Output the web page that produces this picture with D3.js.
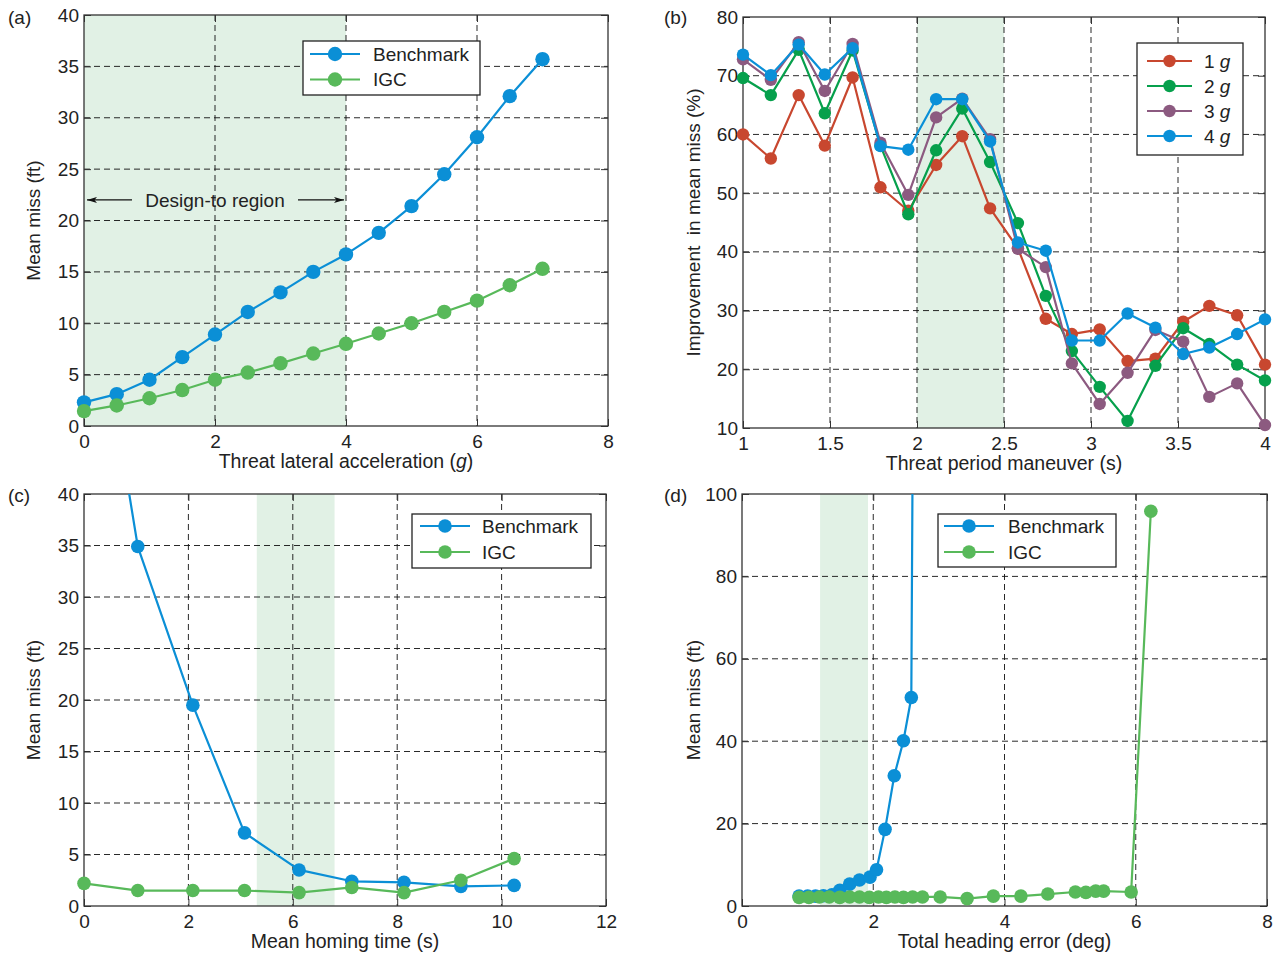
<!DOCTYPE html>
<html>
<head>
<meta charset="utf-8">
<script src="https://cdn.jsdelivr.net/npm/d3@7"></script>
<style>
  body { margin: 0; background: #fff; }
  text { font-family: "Liberation Sans", Arial, Helvetica, sans-serif; fill: #222; }
</style>
</head>
<body>
<script>
const W = 1279, H = 954;
const svg = d3.select("body").append("svg").attr("width", W).attr("height", H);

// ---------- (a) miss vs threat acceleration ----------
const accelG = [0, 0.5, 1, 1.5, 2, 2.5, 3, 3.5, 4, 4.5, 5, 5.5, 6, 6.5, 7];
const benchA = [2.3, 3.1, 4.5, 6.7, 8.9, 11.1, 13.0, 15.0, 16.7, 18.8, 21.4, 24.5, 28.1, 32.1, 35.7];
const igcA   = [1.45, 2.0, 2.7, 3.5, 4.5, 5.2, 6.1, 7.05, 8.0, 9.0, 10.0, 11.1, 12.2, 13.7, 15.3];
const bandA  = [0, 4];

// ---------- (b) improvement vs maneuver period ----------
const periodS = [1, 1.16, 1.32, 1.47, 1.63, 1.79, 1.95, 2.11, 2.26, 2.42,
                 2.58, 2.74, 2.89, 3.05, 3.21, 3.37, 3.53, 3.68, 3.84, 4];
const imp1g = [60.0, 55.9, 66.7, 58.1, 69.7, 51.0, 47.0, 54.8, 59.7, 47.4,
               40.6, 28.6, 26.0, 26.8, 21.4, 21.8, 28.1, 30.8, 29.2, 20.8];
const imp2g = [69.6, 66.7, 74.4, 63.6, 74.3, 58.1, 46.4, 57.3, 64.4, 55.3,
               44.9, 32.5, 23.1, 17.0, 11.2, 20.6, 27.0, 24.3, 20.8, 18.1];
const imp3g = [72.8, 69.3, 75.7, 67.4, 75.4, 58.6, 49.7, 62.9, 66.1, 59.2,
               40.5, 37.4, 21.0, 14.1, 19.4, 26.7, 24.7, 15.3, 17.6, 10.5];
const imp4g = [73.6, 70.1, 75.3, 70.2, 74.7, 58.0, 57.4, 66.0, 66.0, 58.8,
               41.6, 40.2, 24.9, 24.9, 29.5, 27.1, 22.6, 23.7, 26.0, 28.5];
const gLevels = ["1", "2", "3", "4"];
const bandB = [2, 2.5];

// ---------- (c) miss vs homing time ----------
const homeTicks = [0, 2, 6, 8, 10, 12];
const homeBench = [0, 1.03, 2.17, 4.15, 6.12, 7.13, 8.13, 9.22, 10.24];
const missBenchC = [67, 34.9, 19.5, 7.1, 3.5, 2.4, 2.3, 1.9, 2.0];
const homeIgc = [0, 1.03, 2.17, 4.15, 6.12, 7.13, 8.13, 9.22, 10.24];
const missIgcC = [2.2, 1.5, 1.5, 1.5, 1.3, 1.8, 1.3, 2.5, 4.6];
const bandC = [4.62, 6.8];

// ---------- (d) miss vs heading error ----------
const headBench = [0.87, 1.0, 1.12, 1.24, 1.37, 1.49, 1.64, 1.79, 1.95, 2.05, 2.18, 2.32, 2.46, 2.58, 2.70];
const missBenchD = [2.4, 2.4, 2.4, 2.5, 2.7, 3.8, 5.3, 6.3, 7.0, 8.8, 18.6, 31.6, 40.1, 50.6, 400];
const headIgc = [0.87, 1.02, 1.18, 1.33, 1.49, 1.64, 1.79, 1.94, 2.08, 2.2, 2.33, 2.46, 2.6,
                 2.75, 3.02, 3.43, 3.83, 4.25, 4.66, 5.08, 5.24, 5.39, 5.51, 5.93, 6.23];
const missIgcD = [2.1, 2.1, 2.2, 2.2, 2.1, 2.2, 2.2, 2.1, 2.2, 2.1, 2.2, 2.1, 2.2,
                  2.2, 2.2, 1.8, 2.4, 2.4, 2.9, 3.4, 3.3, 3.6, 3.6, 3.4, 95.8];
const bandD = [1.19, 1.92];

const BLUE = "#0b8fd6", GREEN = "#58b95a";
const bColors = ["#c8472f", "#06a04c", "#8c5a80", "#0a90d8"];

let clipId = 0;

function drawPanel(p) {
  const { box, x, y } = p;
  const g = svg.append("g");

  // shaded design region
  g.selectAll("rect.band").data([p.band]).join("rect")
    .attr("x", d => x(d[0])).attr("y", box.t)
    .attr("width", d => x(d[1]) - x(d[0])).attr("height", box.b - box.t)
    .attr("fill", "#e1f1e5");

  // dashed grid
  g.selectAll("line.vg").data(p.xTicks.slice(1, -1)).join("line")
    .attr("x1", d => x(d)).attr("x2", d => x(d))
    .attr("y1", box.t).attr("y2", box.b)
    .attr("stroke", "#111").attr("stroke-width", 0.9).attr("stroke-dasharray", "6,4");
  g.selectAll("line.hg").data(p.yTicks.slice(1, -1)).join("line")
    .attr("y1", d => y(d)).attr("y2", d => y(d))
    .attr("x1", box.l).attr("x2", box.r)
    .attr("stroke", "#111").attr("stroke-width", 0.9).attr("stroke-dasharray", "6,4");

  // axes with inward ticks on all four sides
  const tk = 7;
  const styleAxis = s => {
    s.select(".domain").remove();
    s.selectAll("line").attr("stroke", "#333");
    s.selectAll("text").attr("font-size", 19).attr("font-family", null).attr("fill", "#222");
    s.attr("font-family", null);
  };
  g.append("g").attr("transform", `translate(0,${box.b})`)
    .call(d3.axisBottom(x).tickValues(p.xTicks).tickFormat(p.xFmt || (d => d))
      .tickSizeInner(-tk).tickSizeOuter(0).tickPadding(9)).call(styleAxis);
  g.append("g").attr("transform", `translate(0,${box.t})`)
    .call(d3.axisTop(x).tickValues(p.xTicks).tickFormat("")
      .tickSizeInner(-tk).tickSizeOuter(0)).call(styleAxis);
  g.append("g").attr("transform", `translate(${box.l},0)`)
    .call(d3.axisLeft(y).tickValues(p.yTicks).tickFormat(d => d)
      .tickSizeInner(-tk).tickSizeOuter(0).tickPadding(5)).call(styleAxis);
  g.append("g").attr("transform", `translate(${box.r},0)`)
    .call(d3.axisRight(y).tickValues(p.yTicks).tickFormat("")
      .tickSizeInner(-tk).tickSizeOuter(0)).call(styleAxis);

  g.append("rect").attr("x", box.l).attr("y", box.t)
    .attr("width", box.r - box.l).attr("height", box.b - box.t)
    .attr("fill", "none").attr("stroke", "#333").attr("stroke-width", 1.3);

  // clip only the top edge so runaway curves leave the frame
  const cid = "clip" + (clipId++);
  svg.append("clipPath").attr("id", cid).append("rect")
    .attr("x", box.l - 20).attr("y", box.t)
    .attr("width", box.r - box.l + 40).attr("height", box.b - box.t + 20);
  const plot = g.append("g").attr("clip-path", `url(#${cid})`);

  const line = d3.line().x(d => x(d[0])).y(d => y(d[1]));
  p.series.forEach(s => {
    const pts = s.xs.map((v, i) => [v, s.ys[i]]);
    plot.append("path").datum(pts).attr("d", line)
      .attr("fill", "none").attr("stroke", s.color).attr("stroke-width", 2.2)
      .attr("stroke-linejoin", "round");
    plot.selectAll(null).data(pts).join("circle")
      .attr("cx", d => x(d[0])).attr("cy", d => y(d[1])).attr("r", p.r)
      .attr("fill", s.color);
  });

  // titles
  const xt = g.append("text").attr("x", (box.l + box.r) / 2).attr("y", box.b + 42)
    .attr("text-anchor", "middle").attr("font-size", 19.5).style("white-space", "pre");
  p.xTitle.forEach(part => xt.append("tspan").text(part[0])
    .attr("font-style", part[1] ? "italic" : null));
  g.append("text").attr("transform", `translate(${p.yTitleX},${(box.t + box.b) / 2}) rotate(-90)`)
    .attr("text-anchor", "middle").attr("dy", "0.35em").attr("font-size", 19)
    .style("white-space", "pre").text(p.yTitle);
  g.append("text").attr("x", p.tag[1]).attr("y", p.tag[2])
    .attr("font-size", 19).text(p.tag[0]);

  // legend
  const lg = p.legend;
  const lgG = g.append("g");
  lgG.append("rect").attr("x", lg.l).attr("y", lg.t).attr("width", lg.w).attr("height", lg.h)
    .attr("fill", "#fff").attr("stroke", "#222").attr("stroke-width", 1.3);
  p.series.forEach((s, i) => {
    const yy = lg.t + lg.first + i * lg.gap;
    lgG.append("line").attr("x1", lg.l + lg.line[0]).attr("x2", lg.l + lg.line[1])
      .attr("y1", yy).attr("y2", yy).attr("stroke", s.color).attr("stroke-width", 2.2);
    lgG.append("circle").attr("cx", lg.l + (lg.line[0] + lg.line[1]) / 2).attr("cy", yy)
      .attr("r", p.r).attr("fill", s.color);
    const t = lgG.append("text").attr("x", lg.l + lg.textX).attr("y", yy)
      .attr("dy", "0.35em").attr("font-size", 19).style("white-space", "pre");
    s.label.forEach(part => t.append("tspan").text(part[0])
      .attr("font-style", part[1] ? "italic" : null));
  });
  return { g, x, y };
}

// ----- panel (a)
const boxA = { l: 84, r: 608, t: 15, b: 426 };
const xA = d3.scaleLinear().domain([0, 8]).range([boxA.l, boxA.r]);
const yA = d3.scaleLinear().domain([0, 40]).range([boxA.b, boxA.t]);
const pa = drawPanel({
  box: boxA, x: xA, y: yA, band: bandA, r: 7.2,
  xTicks: [0, 2, 4, 6, 8], yTicks: [0, 5, 10, 15, 20, 25, 30, 35, 40],
  series: [
    { xs: accelG, ys: benchA, color: BLUE, label: [["Benchmark"]] },
    { xs: accelG, ys: igcA, color: GREEN, label: [["IGC"]] }
  ],
  xTitle: [["Threat lateral acceleration ("], ["g", true], [")"]],
  yTitle: "Mean miss (ft)", yTitleX: 33, tag: ["(a)", 8, 24],
  legend: { l: 303, t: 41, w: 177, h: 54, first: 13, gap: 25.5, line: [7, 57], textX: 70 }
});
// design-to annotation
const defs = svg.append("defs");
defs.append("marker").attr("id", "ah").attr("viewBox", "0 0 10 6")
  .attr("refX", 10).attr("refY", 3).attr("markerWidth", 10).attr("markerHeight", 6)
  .attr("orient", "auto-start-reverse").attr("markerUnits", "userSpaceOnUse")
  .append("path").attr("d", "M0,0 L10,3 L0,6 L2.5,3 Z").attr("fill", "#111");
const annY = yA(22);
pa.g.append("text").attr("x", xA(2)).attr("y", annY).attr("dy", "0.35em")
  .attr("text-anchor", "middle").attr("font-size", 19).text("Design-to region");
pa.g.append("line").attr("x1", xA(2) - 83).attr("x2", xA(bandA[0]) + 3)
  .attr("y1", annY).attr("y2", annY).attr("stroke", "#111").attr("stroke-width", 1.2)
  .attr("marker-end", "url(#ah)");
pa.g.append("line").attr("x1", xA(2) + 83).attr("x2", xA(bandA[1]) - 2)
  .attr("y1", annY).attr("y2", annY).attr("stroke", "#111").attr("stroke-width", 1.2)
  .attr("marker-end", "url(#ah)");

// ----- panel (b)
const boxB = { l: 743, r: 1265, t: 17, b: 428 };
const xB = d3.scaleLinear().domain([1, 4]).range([boxB.l, boxB.r]);
const yB = d3.scaleLinear().domain([10, 80]).range([boxB.b, boxB.t]);
const impSeries = [imp1g, imp2g, imp3g, imp4g];
drawPanel({
  box: boxB, x: xB, y: yB, band: bandB, r: 6.2,
  xTicks: [1, 1.5, 2, 2.5, 3, 3.5, 4], yTicks: [10, 20, 30, 40, 50, 60, 70, 80],
  series: impSeries.map((ys, i) => ({ xs: periodS, ys, color: bColors[i], label: [[gLevels[i] + " "], ["g", true]] })),
  xTitle: [["Threat period maneuver (s)"]],
  yTitle: "Improvement  in mean miss (%)", yTitleX: 693, tag: ["(b)", 664, 24],
  legend: { l: 1137, t: 43, w: 106, h: 112, first: 18, gap: 25, line: [10, 55], textX: 67 }
});

// ----- panel (c)
const boxC = { l: 84, r: 606, t: 494, b: 906 };
const xC = d3.scaleLinear().domain(homeTicks)
  .range(homeTicks.map((d, i) => boxC.l + i * (boxC.r - boxC.l) / (homeTicks.length - 1)));
const yC = d3.scaleLinear().domain([0, 40]).range([boxC.b, boxC.t]);
drawPanel({
  box: boxC, x: xC, y: yC, band: bandC, r: 6.8,
  xTicks: homeTicks, yTicks: [0, 5, 10, 15, 20, 25, 30, 35, 40],
  series: [
    { xs: homeBench, ys: missBenchC, color: BLUE, label: [["Benchmark"]] },
    { xs: homeIgc, ys: missIgcC, color: GREEN, label: [["IGC"]] }
  ],
  xTitle: [["Mean homing time (s)"]],
  yTitle: "Mean miss (ft)", yTitleX: 33, tag: ["(c)", 8, 502],
  legend: { l: 412, t: 514, w: 179, h: 54, first: 12, gap: 26, line: [8, 58], textX: 70 }
});

// ----- panel (d)
const boxD = { l: 742, r: 1267, t: 494, b: 906 };
const xD = d3.scaleLinear().domain([0, 8]).range([boxD.l, boxD.r]);
const yD = d3.scaleLinear().domain([0, 100]).range([boxD.b, boxD.t]);
drawPanel({
  box: boxD, x: xD, y: yD, band: bandD, r: 6.8,
  xTicks: [0, 2, 4, 6, 8], yTicks: [0, 20, 40, 60, 80, 100],
  series: [
    { xs: headBench, ys: missBenchD, color: BLUE, label: [["Benchmark"]] },
    { xs: headIgc, ys: missIgcD, color: GREEN, label: [["IGC"]] }
  ],
  xTitle: [["Total heading error (deg)"]],
  yTitle: "Mean miss (ft)", yTitleX: 693, tag: ["(d)", 664, 502],
  legend: { l: 938, t: 514, w: 178, h: 53, first: 12, gap: 26, line: [6, 56], textX: 70 }
});
</script>
</body>
</html>
